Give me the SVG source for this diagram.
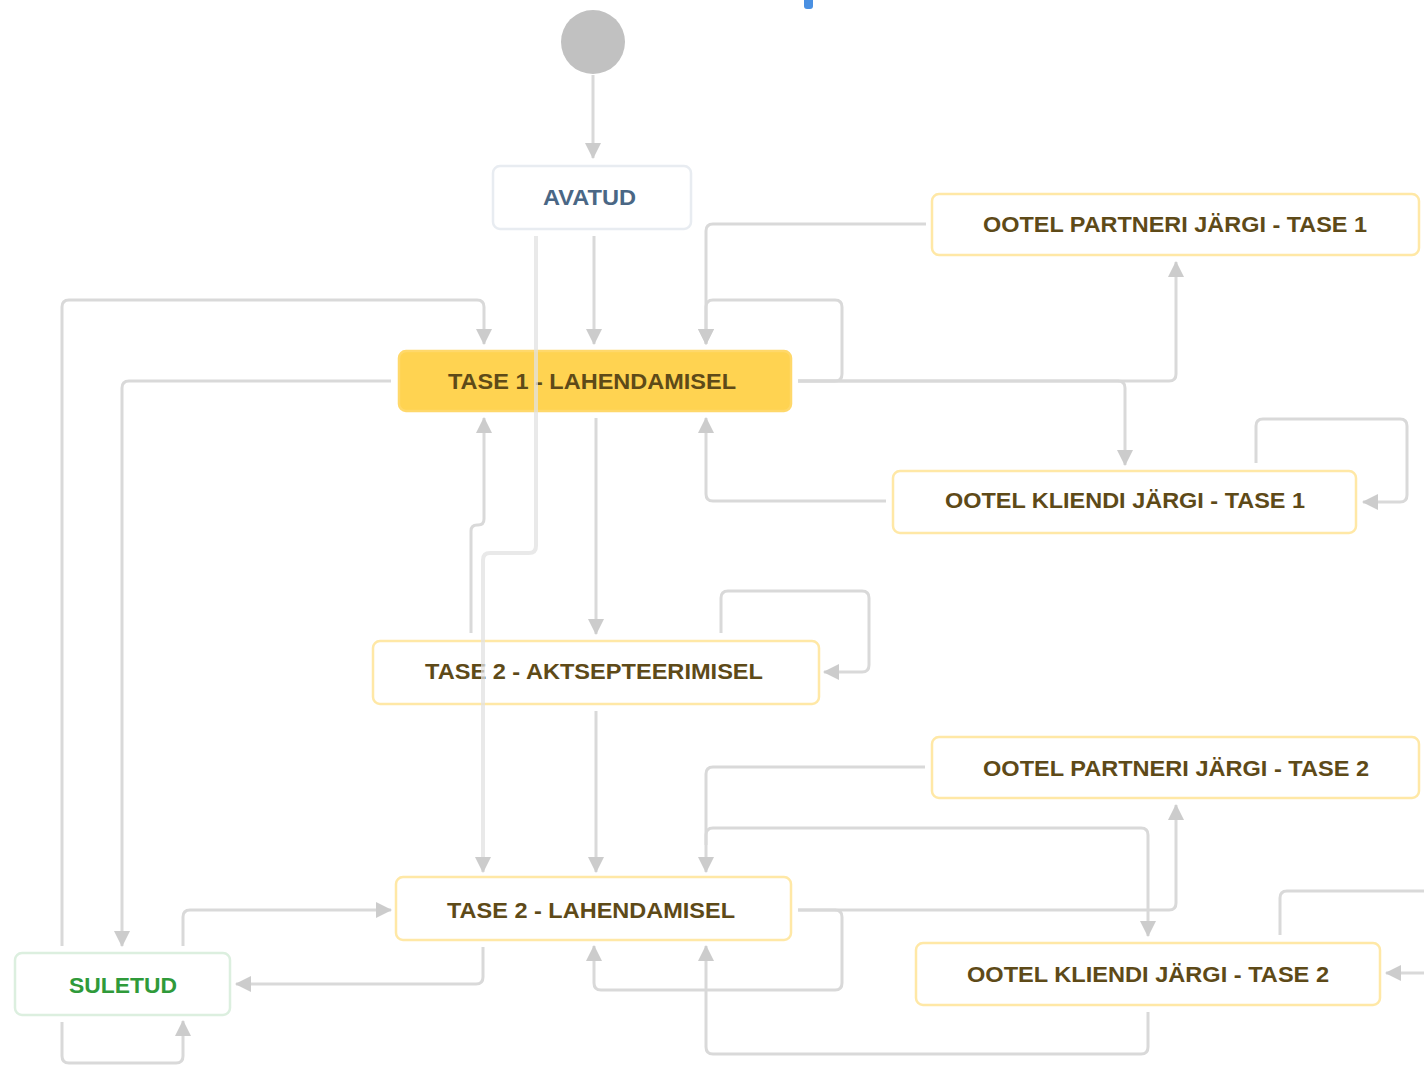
<svg xmlns="http://www.w3.org/2000/svg" width="1424" height="1065" viewBox="0 0 1424 1065">
<style>
  .node rect { fill: #ffffff; stroke-width: 2.5; }
  .yel rect { stroke: #ffe8a6; }
  .lbl { font-family: "Liberation Sans", Arial, sans-serif; font-weight: bold; font-size: 22px; text-anchor: middle; fill: #5e4a18; }
  .conn path { fill: none; stroke: #d9d9d9; stroke-width: 3; marker-end: url(#arr); }
  .conn path.noarr { marker-end: none; }
  .conn path.light { stroke: #e2e2e2; stroke-opacity: 0.75; stroke-width: 4; }
</style>
<defs>
  <marker id="arr" viewBox="0 0 16 16" refX="15" refY="8" markerWidth="16" markerHeight="16" markerUnits="userSpaceOnUse" orient="auto">
    <path d="M0,0 L16,8 L0,16 z" fill="#cccccc"/>
  </marker>
</defs>
<rect width="1424" height="1065" fill="#ffffff"/>
<rect x="804" y="-5" width="9" height="14" rx="3" fill="#4a90e2"/>

<g id="start"><circle cx="593" cy="42" r="32" fill="#c1c1c1"/></g>

<g id="avatud" class="node">
  <rect x="493" y="166" width="198" height="63" rx="7" style="stroke:#e8ecf1"/>
  <text class="lbl" x="589.5" y="205" textLength="93" lengthAdjust="spacingAndGlyphs" style="fill:#4a6785">AVATUD</text>
</g>
<g id="tase1" class="node">
  <rect x="399" y="351" width="392" height="60" rx="7" style="fill:#ffd351;stroke:#ffd86a"/>
  <text class="lbl" x="592" y="389" textLength="288" lengthAdjust="spacingAndGlyphs">TASE 1 - LAHENDAMISEL</text>
</g>
<g id="partner1" class="node yel">
  <rect x="932" y="194" width="487" height="61" rx="7"/>
  <text class="lbl" x="1175" y="232" textLength="384" lengthAdjust="spacingAndGlyphs">OOTEL PARTNERI JÄRGI - TASE 1</text>
</g>
<g id="klient1" class="node yel">
  <rect x="893" y="471" width="463" height="62" rx="7"/>
  <text class="lbl" x="1125" y="508" textLength="360" lengthAdjust="spacingAndGlyphs">OOTEL KLIENDI JÄRGI - TASE 1</text>
</g>
<g id="tase2akt" class="node yel">
  <rect x="373" y="641" width="446" height="63" rx="7"/>
  <text class="lbl" x="594" y="679" textLength="338" lengthAdjust="spacingAndGlyphs">TASE 2 - AKTSEPTEERIMISEL</text>
</g>
<g id="partner2" class="node yel">
  <rect x="932" y="737" width="487" height="61" rx="7"/>
  <text class="lbl" x="1176" y="776" textLength="386" lengthAdjust="spacingAndGlyphs">OOTEL PARTNERI JÄRGI - TASE 2</text>
</g>
<g id="tase2lah" class="node yel">
  <rect x="396" y="877" width="395" height="63" rx="7"/>
  <text class="lbl" x="591" y="918" textLength="288" lengthAdjust="spacingAndGlyphs">TASE 2 - LAHENDAMISEL</text>
</g>
<g id="klient2" class="node yel">
  <rect x="916" y="943" width="464" height="62" rx="7"/>
  <text class="lbl" x="1148" y="982" textLength="362" lengthAdjust="spacingAndGlyphs">OOTEL KLIENDI JÄRGI - TASE 2</text>
</g>
<g id="suletud" class="node">
  <rect x="15" y="953" width="215" height="62" rx="7" style="stroke:#dcefdf"/>
  <text class="lbl" x="123" y="993" textLength="108" lengthAdjust="spacingAndGlyphs" style="fill:#2f9a3a">SULETUD</text>
</g>

<g id="connectors" class="conn">
  <path d="M593,75 V158"/>
  <path d="M594,236 V344"/>
  <path class="light" d="M536,236 V546 Q536,553 529,553 H490 Q483,553 483,560 V872"/>
  <path d="M471,633 V531 Q471,525 477,525 H478 Q484,525 484,519 V418"/>
  <path d="M596,418 V634"/>
  <path d="M721,633 V598 Q721,591 728,591 H862 Q869,591 869,598 V665 Q869,672 862,672 H824"/>
  <path d="M596,711 V872"/>
  <path d="M391,381 H129 Q122,381 122,388 V946"/>
  <path d="M62,946 V307 Q62,300 69,300 H477 Q484,300 484,307 V344"/>
  <path d="M926,224 H713 Q706,224 706,231 V344"/>
  <path d="M798,381 H835 Q842,381 842,374 V307 Q842,300 835,300 H713 Q706,300 706,307 V344"/>
  <path d="M798,381 H1169 Q1176,381 1176,374 V262"/>
  <path d="M798,381 H1118 Q1125,381 1125,388 V465"/>
  <path d="M886,501 H713 Q706,501 706,494 V418"/>
  <path d="M1256,463 V426 Q1256,419 1263,419 H1400 Q1407,419 1407,426 V495 Q1407,502 1400,502 H1363"/>
  <path d="M925,767 H713 Q706,767 706,774 V872"/>
  <path d="M706,845 V835 Q706,828 713,828 H1141 Q1148,828 1148,835 V936"/>
  <path d="M798,910 H1169 Q1176,910 1176,903 V805"/>
  <path d="M798,910 H835 Q842,910 842,917 V983 Q842,990 835,990 H601 Q594,990 594,983 V946"/>
  <path d="M1148,1012 V1047 Q1148,1054 1141,1054 H713 Q706,1054 706,1047 V946"/>
  <path class="noarr" d="M1280,935 V898 Q1280,891 1287,891 H1430"/>
  <path d="M1430,973 H1386"/>
  <path d="M483,947 V977 Q483,984 476,984 H236"/>
  <path d="M183,946 V917 Q183,910 190,910 H391"/>
  <path d="M62,1022 V1056 Q62,1063 69,1063 H176 Q183,1063 183,1056 V1021"/>
</g>
</svg>
